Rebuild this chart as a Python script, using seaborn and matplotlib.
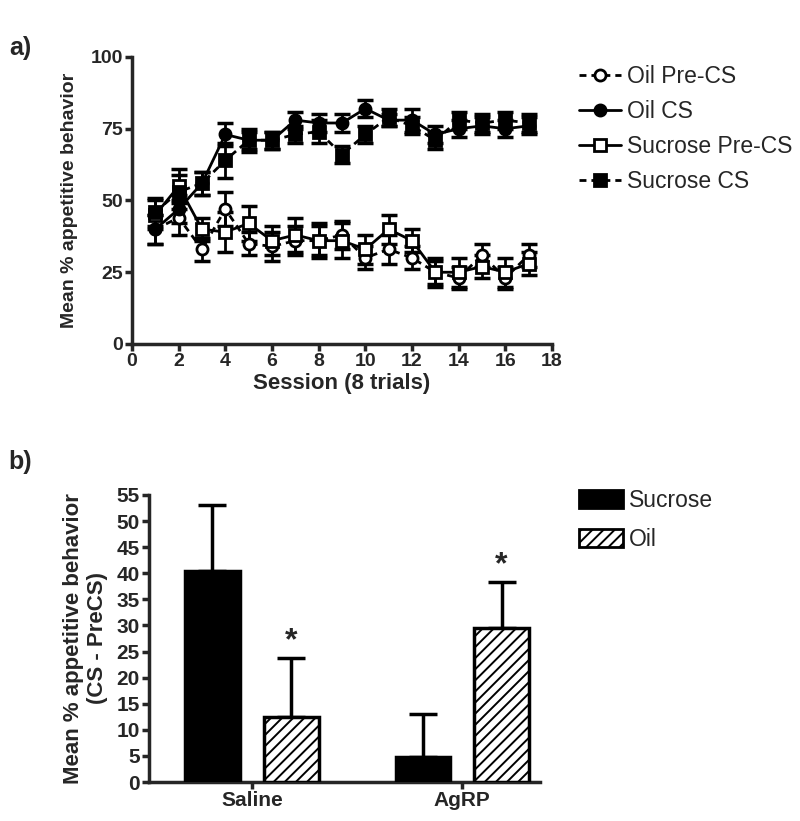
import matplotlib
matplotlib.use("Agg")
import matplotlib.pyplot as plt
from matplotlib.patches import Patch
from matplotlib.lines import Line2D
import pandas as pd
import seaborn as sns

sns.set_style("ticks")
plt.rcParams['font.family'] = ['Liberation Sans', 'DejaVu Sans']
plt.rcParams['hatch.linewidth'] = 1.4

# panel a) - sessions 1..17, mean % appetitive behavior +/- SEM
sessions = list(range(1, 18))
oil_pre = [40, 44, 33, 47, 35, 34, 36, 36, 38, 30, 33, 30, 25, 23, 31, 23, 31]
oil_pre_err = [5, 6, 4, 6, 4, 5, 5, 5, 5, 4, 5, 4, 4, 4, 4, 4, 4]
oil_cs = [40, 47, 56, 73, 71, 71, 78, 77, 77, 82, 78, 78, 73, 75, 76, 75, 76]
oil_cs_err = [5, 5, 4, 4, 3, 3, 3, 3, 3, 3, 2, 4, 3, 3, 3, 3, 3]
suc_pre = [45, 55, 40, 39, 42, 36, 38, 36, 36, 33, 40, 36, 25, 25, 27, 25, 28]
suc_pre_err = [5, 6, 4, 7, 6, 5, 6, 6, 6, 5, 5, 4, 5, 5, 4, 5, 4]
suc_cs = [46, 53, 56, 64, 71, 71, 73, 74, 66, 73, 79, 76, 71, 78, 77, 78, 77]
suc_cs_err = [5, 6, 4, 6, 4, 3, 3, 4, 3, 3, 3, 3, 3, 3, 3, 3, 3]

# panel b) - CS minus PreCS
groups = ["Saline", "AgRP"]
treatments = ["Sucrose", "Oil"]
sucrose_diff = [40.5, 4.8]
sucrose_diff_err = [12.5, 8.2]
oil_diff = [12.5, 29.5]
oil_diff_err = [11.3, 8.8]

fig = plt.figure(figsize=(8, 8.21), dpi=100)

# ---------------- panel a ----------------
ax1 = fig.add_axes([0.165, 0.581, 0.525, 0.3496])
dash = (0, (2.5, 1.8))
series = [
    ("Oil Pre-CS", oil_pre, oil_pre_err, dash, "o", "white"),
    ("Oil CS", oil_cs, oil_cs_err, "-", "o", "black"),
    ("Sucrose Pre-CS", suc_pre, suc_pre_err, "-", "s", "white"),
    ("Sucrose CS", suc_cs, suc_cs_err, dash, "s", "black"),
]
handles = []
for name, vals, errs, ls, mk, fc in series:
    ax1.errorbar(sessions, vals, yerr=errs, fmt="none", ecolor="black",
                 elinewidth=2, capsize=6, capthick=2.5, zorder=2)
    sns.lineplot(x=sessions, y=vals, ax=ax1, color="black", linestyle=ls,
                 linewidth=2, marker=mk, markersize=8, markerfacecolor=fc,
                 markeredgecolor="black", markeredgewidth=2, zorder=3)
    handles.append(Line2D([0], [0], color="black", linestyle=ls, linewidth=2,
                          marker=mk, markersize=8, markerfacecolor=fc,
                          markeredgecolor="black", markeredgewidth=2))

ax1.set_xlim(0, 18)
ax1.set_ylim(0, 100)
ax1.set_xticks(range(0, 19, 2))
ax1.set_yticks([0, 25, 50, 75, 100])
ax1.set_xlabel("Session (8 trials)", fontsize=16, fontweight="bold", labelpad=2)
ax1.set_ylabel("Mean % appetitive behavior", fontsize=14, fontweight="bold")
ax1.yaxis.set_label_coords(-0.128, 0.5)
ax1.legend(handles, [s[0] for s in series], loc="upper left",
           bbox_to_anchor=(0.724, 0.921), bbox_transform=fig.transFigure,
           frameon=False, fontsize=16.5, handlelength=1.83, handletextpad=0.26,
           labelspacing=0.52, borderaxespad=0, borderpad=0)

# ---------------- panel b ----------------
ax2 = fig.add_axes([0.186, 0.0475, 0.489, 0.3496])
df = pd.DataFrame({
    "group": groups * 2,
    "treatment": [treatments[0]] * 2 + [treatments[1]] * 2,
    "value": sucrose_diff + oil_diff,
})
sns.barplot(data=df, x="group", y="value", hue="treatment", order=groups,
            hue_order=treatments, palette=["black", "white"], edgecolor="black",
            linewidth=2.5, width=0.75, gap=0.31, errorbar=None, legend=False,
            ax=ax2, zorder=3)

errs_by_treat = [sucrose_diff_err, oil_diff_err]
bar_conts = list(ax2.containers)
for ti, cont in enumerate(bar_conts):
    for bi, bar in enumerate(cont.patches):
        xc = bar.get_x() + bar.get_width() / 2
        h = bar.get_height()
        e = errs_by_treat[ti][bi]
        ax2.errorbar([xc], [h], yerr=[[0], [e]], fmt="none", ecolor="black",
                     elinewidth=2.5, capsize=10, capthick=2.5, zorder=2)
        if treatments[ti] == "Oil":
            bar.set_hatch("///")
            ax2.text(xc, h + e + 0.3, "*", ha="center", va="bottom",
                     fontsize=23, fontweight="bold")

ax2.set_ylim(0, 55)
ax2.set_xlim(-0.49, 1.37)
ax2.set_yticks(range(0, 56, 5))
ax2.set_xlabel("")
ax2.set_ylabel("Mean % appetitive behavior\n(CS - PreCS)", fontsize=16,
               fontweight="bold", linespacing=1.2)
ax2.yaxis.set_label_coords(-0.105, 0.5)
leg_handles = [Patch(facecolor="black", edgecolor="black", linewidth=2),
               Patch(facecolor="white", edgecolor="black", linewidth=2, hatch="///")]
ax2.legend(leg_handles, treatments, loc="upper left",
           bbox_to_anchor=(0.724, 0.404), bbox_transform=fig.transFigure,
           frameon=False, fontsize=16.5, handlelength=1.92, handleheight=0.83,
           handletextpad=0.26, labelspacing=0.69, borderaxespad=0, borderpad=0)

for ax in (ax1, ax2):
    sns.despine(ax=ax)
    for sp in ("left", "bottom"):
        ax.spines[sp].set_linewidth(2.5)
    ax.tick_params(direction="out", length=5, width=2.5, pad=1.5)
    for lab in ax.get_xticklabels() + ax.get_yticklabels():
        lab.set_fontweight("bold")
ax1.tick_params(labelsize=14)
ax2.tick_params(labelsize=15)

fig.text(0.012, 0.9415, "a)", fontsize=18, fontweight="bold", va="center")
fig.text(0.010, 0.437, "b)", fontsize=18, fontweight="bold", va="center")

fig.savefig("out.png", dpi=100, facecolor="white")
